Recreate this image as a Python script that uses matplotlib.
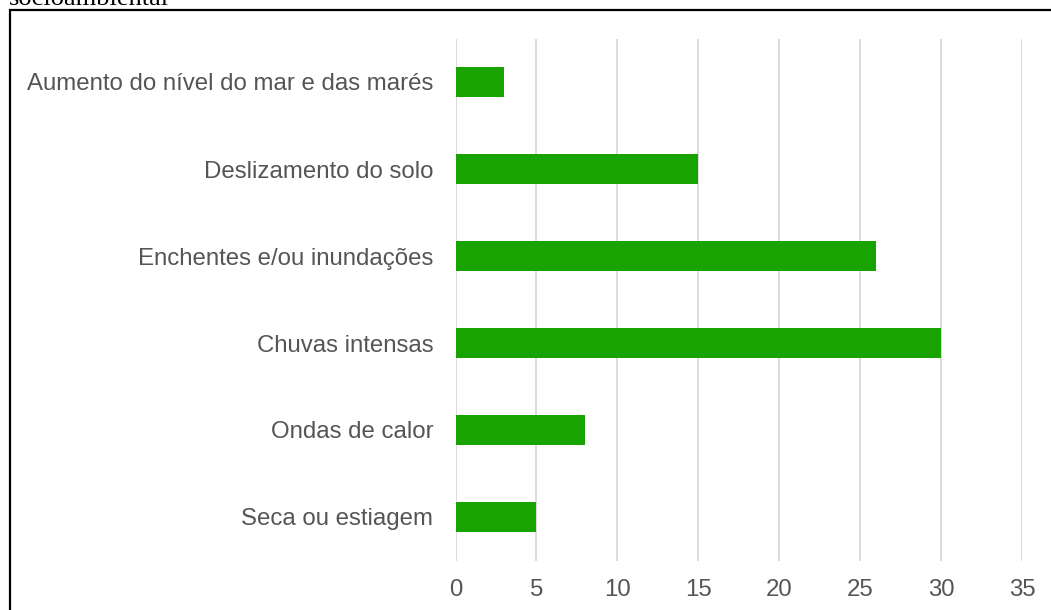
import matplotlib.pyplot as plt
from matplotlib.patches import Rectangle

categories = ["Aumento do nível do mar e das marés", "Deslizamento do solo",
              "Enchentes e/ou inundações", "Chuvas intensas",
              "Ondas de calor", "Seca ou estiagem"]
values = [3, 15, 26, 30, 8, 5]
x_ticks = [0, 5, 10, 15, 20, 25, 30, 35]

plt.rcParams['font.family'] = ['Liberation Sans', 'DejaVu Sans']

fig = plt.figure(figsize=(10.51, 6.10), dpi=100)
ax = fig.add_axes([455.5 / 1051, 1 - 560.5 / 610, (1022 - 455.5) / 1051, (560.5 - 38.5) / 610])

pos = list(range(len(categories)))
ax.barh(pos, values, height=0.355, color="#18a300", zorder=3)
ax.set_ylim(len(categories) - 0.5, -0.5)
ax.set_xlim(0, 35)
ax.set_xticks(x_ticks)
ax.set_yticks(pos)
ax.set_yticklabels(categories)
ax.grid(axis="x", color="#d9d9d9", linewidth=1.3, zorder=0)
ax.tick_params(axis="both", length=0, labelsize=17.3, labelcolor="#555555")
ax.tick_params(axis="y", pad=16)
ax.tick_params(axis="x", pad=13)
for s in ax.spines.values():
    s.set_visible(False)

# border around the chart and the cut-off caption above it
fig.patches.append(Rectangle((10 / 1051, -0.1), 1.2, 1.1 - 10 / 610, transform=fig.transFigure,
                             fill=False, edgecolor="black", linewidth=1.6))
fig.text(9 / 1051, 1 - 5 / 610, "socioambiental", family="Liberation Serif", fontsize=19,
         va="baseline", ha="left", color="black")

fig.savefig("out.png", dpi=100)
